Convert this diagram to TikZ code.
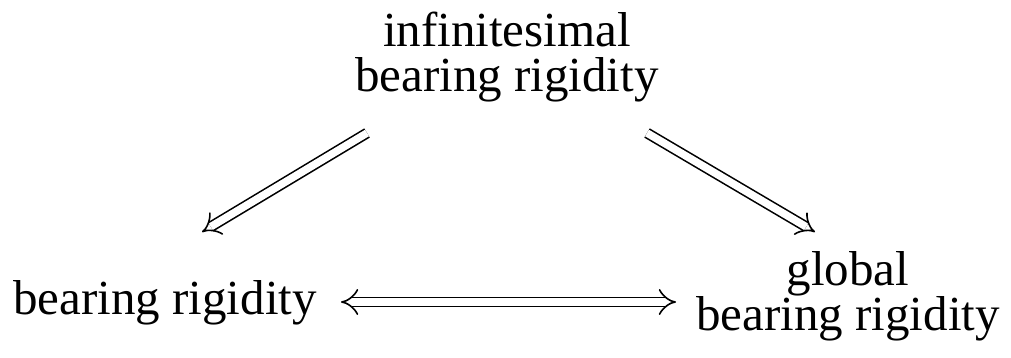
\documentclass[tikz,border=0pt]{standalone}
\usepackage{fontspec}
\setmainfont{Liberation Serif}
\usetikzlibrary{arrows.meta}
\begin{document}
\begin{tikzpicture}[x=1pt,y=1pt,
  lbl/.style={inner sep=0pt, align=center, font=\fontsize{24.5}{22.5}\selectfont},
  imp/.style={double, double distance=3.8pt, line width=0.8pt, -{Implies[scale=1.3]}},
  bimp/.style={double, double distance=3.8pt, line width=0.8pt, {Implies[scale=1.3]}-{Implies[scale=1.3]}}]
\useasboundingbox (0,0) rectangle (505.5,-179);
\node[lbl, anchor=base] (T) at (253.5,-46) {infinitesimal\\bearing rigidity};
\node[lbl, anchor=base] (L) at (82.5,-157) {bearing rigidity};
\node[lbl, anchor=base] (R) at (424,-165) {global\\bearing rigidity};
\draw[imp] ([shift={(-70,-20.5)}]T.base) -- ([shift={(18.5,41)}]L.base);
\draw[imp] ([shift={(70,-20.5)}]T.base) -- ([shift={(-16.5,49)}]R.base);
\draw[bimp] ([shift={(88,6)}]L.base) -- ([shift={(-86,14)}]R.base);
\end{tikzpicture}
\end{document}
